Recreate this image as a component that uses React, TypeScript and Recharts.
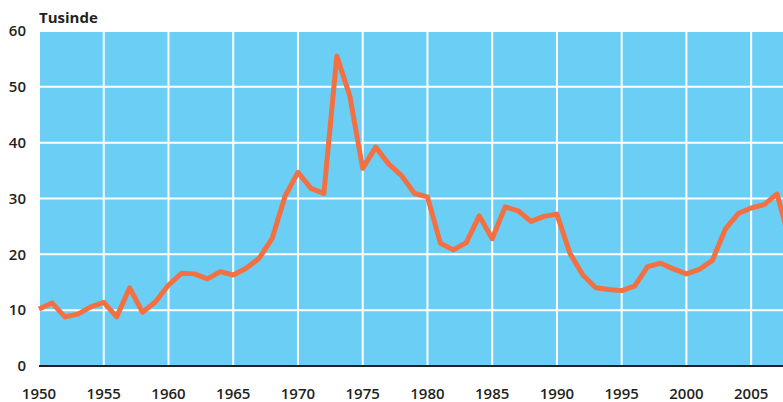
import React from 'react';
import { LineChart, Line, XAxis, YAxis, CartesianGrid } from 'recharts';

const years = [
  1950, 1951, 1952, 1953, 1954, 1955, 1956, 1957, 1958, 1959,
  1960, 1961, 1962, 1963, 1964, 1965, 1966, 1967, 1968, 1969,
  1970, 1971, 1972, 1973, 1974, 1975, 1976, 1977, 1978, 1979,
  1980, 1981, 1982, 1983, 1984, 1985, 1986, 1987, 1988, 1989,
  1990, 1991, 1992, 1993, 1994, 1995, 1996, 1997, 1998, 1999,
  2000, 2001, 2002, 2003, 2004, 2005, 2006, 2007, 2008,
];

const values = [
  10.2, 11.3, 8.8, 9.3, 10.6, 11.4, 8.8, 14.0, 9.6, 11.5,
  14.5, 16.6, 16.5, 15.6, 16.9, 16.3, 17.5, 19.3, 22.8, 30.4,
  34.7, 31.8, 30.9, 55.5, 48.4, 35.4, 39.2, 36.2, 34.1, 30.9,
  30.3, 22.0, 20.8, 22.1, 26.9, 22.8, 28.5, 27.8, 25.9, 26.8,
  27.2, 20.2, 16.3, 14.0, 13.7, 13.5, 14.3, 17.8, 18.4, 17.4,
  16.5, 17.3, 18.9, 24.5, 27.3, 28.3, 28.9, 30.8, 22.3,
];

const xTicks = [1950, 1955, 1960, 1965, 1970, 1975, 1980, 1985, 1990, 1995, 2000, 2005];
const yTicks = [0, 10, 20, 30, 40, 50, 60];
const unitLabel = 'Tusinde';

const data = years.map((y, i) => ({ year: y, value: values[i] }));

const FONT = '"Open Sans", "DejaVu Sans", sans-serif';
const tickStyle = { fontFamily: FONT, fontSize: 15, fontWeight: 600, fill: '#231f20' };

export default function App() {
  return (
    <div style={{ position: 'absolute', left: 0, top: 0, width: 783, height: 402, overflow: 'hidden', background: '#fff' }}>
      <div
        style={{
          position: 'absolute',
          left: 39,
          top: 8,
          fontFamily: FONT,
          fontSize: 15,
          fontWeight: 700,
          color: '#231f20',
          lineHeight: '18px',
        }}
      >
        {unitLabel}
      </div>
      <LineChart
        width={792}
        height={402}
        data={data}
        margin={{ top: 31, right: 2, bottom: 0, left: 0 }}
      >
        <CartesianGrid fill="#6bcef5" stroke="#ffffff" strokeWidth={2} strokeOpacity={1} />
        <XAxis
          dataKey="year"
          type="number"
          domain={[1950, 2008]}
          ticks={xTicks}
          height={36}
          tickLine={false}
          tickSize={0}
          tickMargin={22}
          axisLine={{ stroke: '#231f20', strokeWidth: 2 }}
          tick={tickStyle}
          interval={0}
        />
        <YAxis
          type="number"
          domain={[0, 60]}
          ticks={yTicks}
          width={39}
          tickLine={false}
          tickSize={0}
          tickMargin={13}
          axisLine={false}
          tick={tickStyle}
          interval={0}
        />
        <Line
          type="linear"
          dataKey="value"
          stroke="#f37043"
          strokeWidth={5}
          strokeLinejoin="round"
          strokeLinecap="butt"
          dot={false}
          activeDot={false}
          isAnimationActive={false}
        />
      </LineChart>
    </div>
  );
}
